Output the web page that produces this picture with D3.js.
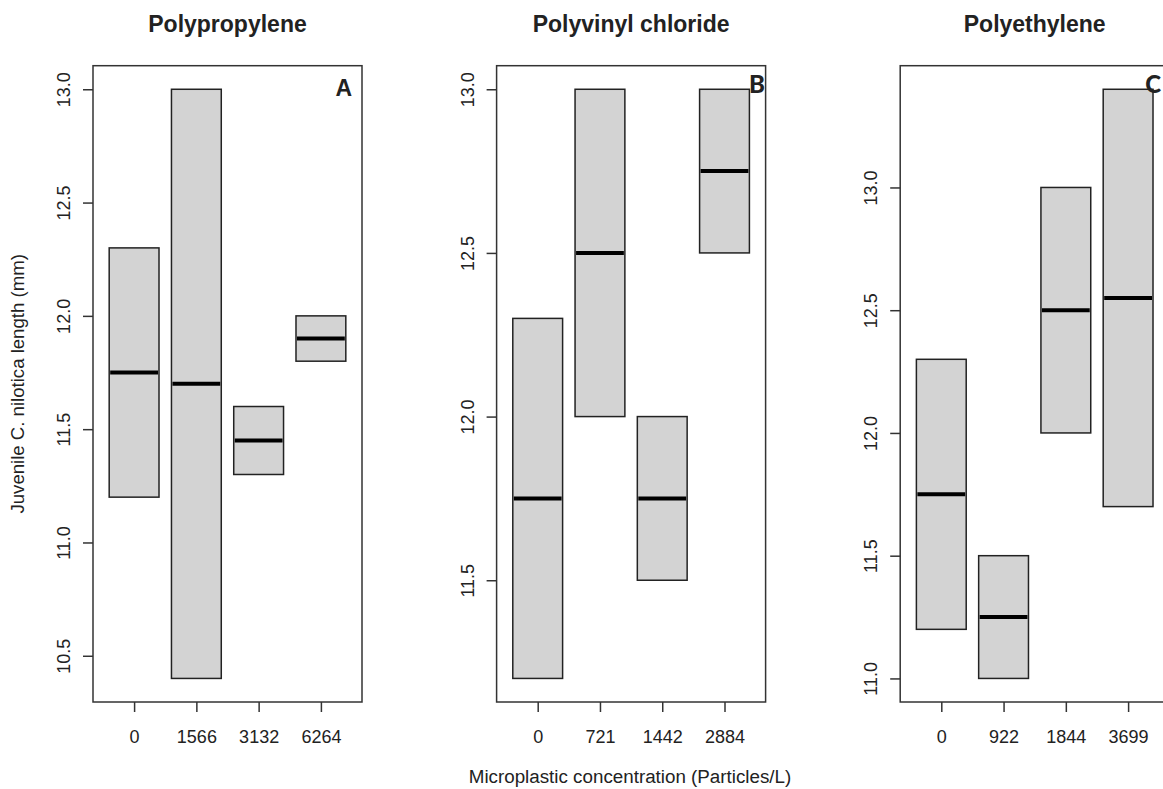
<!DOCTYPE html>
<html>
<head>
<meta charset="utf-8">
<script src="https://cdn.jsdelivr.net/npm/d3@7"></script>
<style>
  body { margin: 0; background: #fff; }
  text { font-family: "Liberation Sans", Arial, sans-serif; fill: #222; }
</style>
</head>
<body>
<div class="chart"></div>
<script>
// panel text
var panelTitles = ["Polypropylene", "Polyvinyl chloride", "Polyethylene"];
var panelLetters = ["A", "B", "C"];

// Polypropylene
var ppConc = ["0", "1566", "3132", "6264"];
var ppLower = [11.2, 10.4, 11.3, 11.8];
var ppMedian = [11.75, 11.7, 11.45, 11.9];
var ppUpper = [12.3, 13.0, 11.6, 12.0];
var ppTicks = [10.5, 11.0, 11.5, 12.0, 12.5, 13.0];

// Polyvinyl chloride
var pvcConc = ["0", "721", "1442", "2884"];
var pvcLower = [11.2, 12.0, 11.5, 12.5];
var pvcMedian = [11.75, 12.5, 11.75, 12.75];
var pvcUpper = [12.3, 13.0, 12.0, 13.0];
var pvcTicks = [11.5, 12.0, 12.5, 13.0];

// Polyethylene
var peConc = ["0", "922", "1844", "3699"];
var peLower = [11.2, 11.0, 12.0, 11.7];
var peMedian = [11.75, 11.25, 12.5, 12.55];
var peUpper = [12.3, 11.5, 13.0, 13.4];
var peTicks = [11.0, 11.5, 12.0, 12.5, 13.0];

var xLabel = "Microplastic concentration (Particles/L)";
var yLabel = "Juvenile C. nilotica length (mm)";

var panels = [
    {conc: ppConc, lower: ppLower, median: ppMedian, upper: ppUpper, ticks: ppTicks},
    {conc: pvcConc, lower: pvcLower, median: pvcMedian, upper: pvcUpper, ticks: pvcTicks},
    {conc: peConc, lower: peLower, median: peMedian, upper: peUpper, ticks: peTicks}
];

// set the dimensions of the page and each panel
var fullWidth = 1163, fullHeight = 789;
var figWidth = 403.6;
var margin = {top: 65.7, left: 93},
    width = 269,
    height = 702 - margin.top;

// where the panel letters sit, relative to each plot box
var letterX = [259, 252.5, 245];
var letterY = [96, 93.5, 93.5];

var svg = d3.select(".chart").append("svg")
    .attr("width", fullWidth)
    .attr("height", fullHeight);

panels.forEach(function(p, i) {

    var g = svg.append("g")
        .attr("transform", "translate(" + (i * figWidth + margin.left) + "," + margin.top + ")");

    // R style ranges: 4% padding around the data
    var n = p.conc.length;
    var x = d3.scaleLinear()
        .domain([0.5 - n * 0.04, n + 0.5 + n * 0.04])
        .range([0, width]);

    var lo = d3.min(p.lower), hi = d3.max(p.upper), pad = (hi - lo) * 0.04;
    var y = d3.scaleLinear()
        .domain([lo - pad, hi + pad])
        .range([height, 0]);

    var boxes = p.conc.map(function(c, j) {
        return {pos: j + 1, lower: p.lower[j], median: p.median[j], upper: p.upper[j]};
    });

    // boxes
    g.selectAll("rect.box")
        .data(boxes)
        .enter().append("rect")
        .attr("class", "box")
        .attr("x", function(d) { return x(d.pos - 0.4); })
        .attr("width", x(1.4) - x(0.6))
        .attr("y", function(d) { return y(d.upper); })
        .attr("height", function(d) { return y(d.lower) - y(d.upper); })
        .attr("fill", "#d3d3d3")
        .attr("stroke", "#222")
        .attr("stroke-width", 1.5);

    // medians
    g.selectAll("line.median")
        .data(boxes)
        .enter().append("line")
        .attr("class", "median")
        .attr("x1", function(d) { return x(d.pos - 0.4) + 1; })
        .attr("x2", function(d) { return x(d.pos + 0.4) - 1; })
        .attr("y1", function(d) { return y(d.median); })
        .attr("y2", function(d) { return y(d.median); })
        .attr("stroke", "#000")
        .attr("stroke-width", 4);

    // frame
    g.append("rect")
        .attr("width", width)
        .attr("height", height)
        .attr("fill", "none")
        .attr("stroke", "#333")
        .attr("stroke-width", 1.5);

    // X axis
    var xAxis = d3.axisBottom(x)
        .tickValues(boxes.map(function(d) { return d.pos; }))
        .tickFormat(function(d) { return p.conc[d - 1]; })
        .tickSize(10);

    var gx = g.append("g")
        .attr("transform", "translate(0," + height + ")")
        .call(xAxis);
    gx.select(".domain").remove();
    gx.selectAll("line").attr("stroke", "#333").attr("stroke-width", 1.5);
    gx.selectAll("text")
        .attr("y", 41)
        .attr("dy", 0)
        .style("font-size", "18px")
        .style("font-family", "Liberation Sans, Arial, sans-serif")
        .attr("fill", "#222");

    // Y axis
    var yAxis = d3.axisLeft(y)
        .tickValues(p.ticks)
        .tickFormat(d3.format(".1f"))
        .tickSize(10);

    var gy = g.append("g").call(yAxis);
    gy.select(".domain").remove();
    gy.selectAll("line").attr("stroke", "#333").attr("stroke-width", 1.5);
    gy.selectAll("text")
        .attr("transform", "rotate(-90)")
        .attr("x", 0)
        .attr("y", -23)
        .attr("dy", 0)
        .style("text-anchor", "middle")
        .style("font-size", "18px")
        .style("font-family", "Liberation Sans, Arial, sans-serif")
        .attr("fill", "#222");

    // title
    g.append("text")
        .text(panelTitles[i])
        .attr("x", width / 2)
        .attr("y", 32 - margin.top)
        .attr("text-anchor", "middle")
        .style("font-size", "23px")
        .style("font-weight", "bold");

    // panel letter
    g.append("text")
        .text(panelLetters[i])
        .attr("x", letterX[i])
        .attr("y", letterY[i] - margin.top)
        .attr("text-anchor", i == 0 ? "end" : "start")
        .style("font-family", i == 0 ? "Liberation Sans, Arial, sans-serif" : "Lato, 'Open Sans', sans-serif")
        .style("font-size", i == 0 ? "23px" : "24px")
        .style("font-weight", i == 0 ? "bold" : "900")
        .attr("fill", "#000");
});

// Add x Axis text
svg.append("text")
    .text(xLabel)
    .attr("x", 630)
    .attr("y", 783)
    .attr("text-anchor", "middle")
    .style("font-size", "18.8px");

// Add y Axis text
svg.append("text")
    .text(yLabel)
    .attr("transform", "translate(24," + (margin.top + height / 2) + ") rotate(-90)")
    .attr("text-anchor", "middle")
    .style("font-size", "18.6px");
</script>
</body>
</html>
